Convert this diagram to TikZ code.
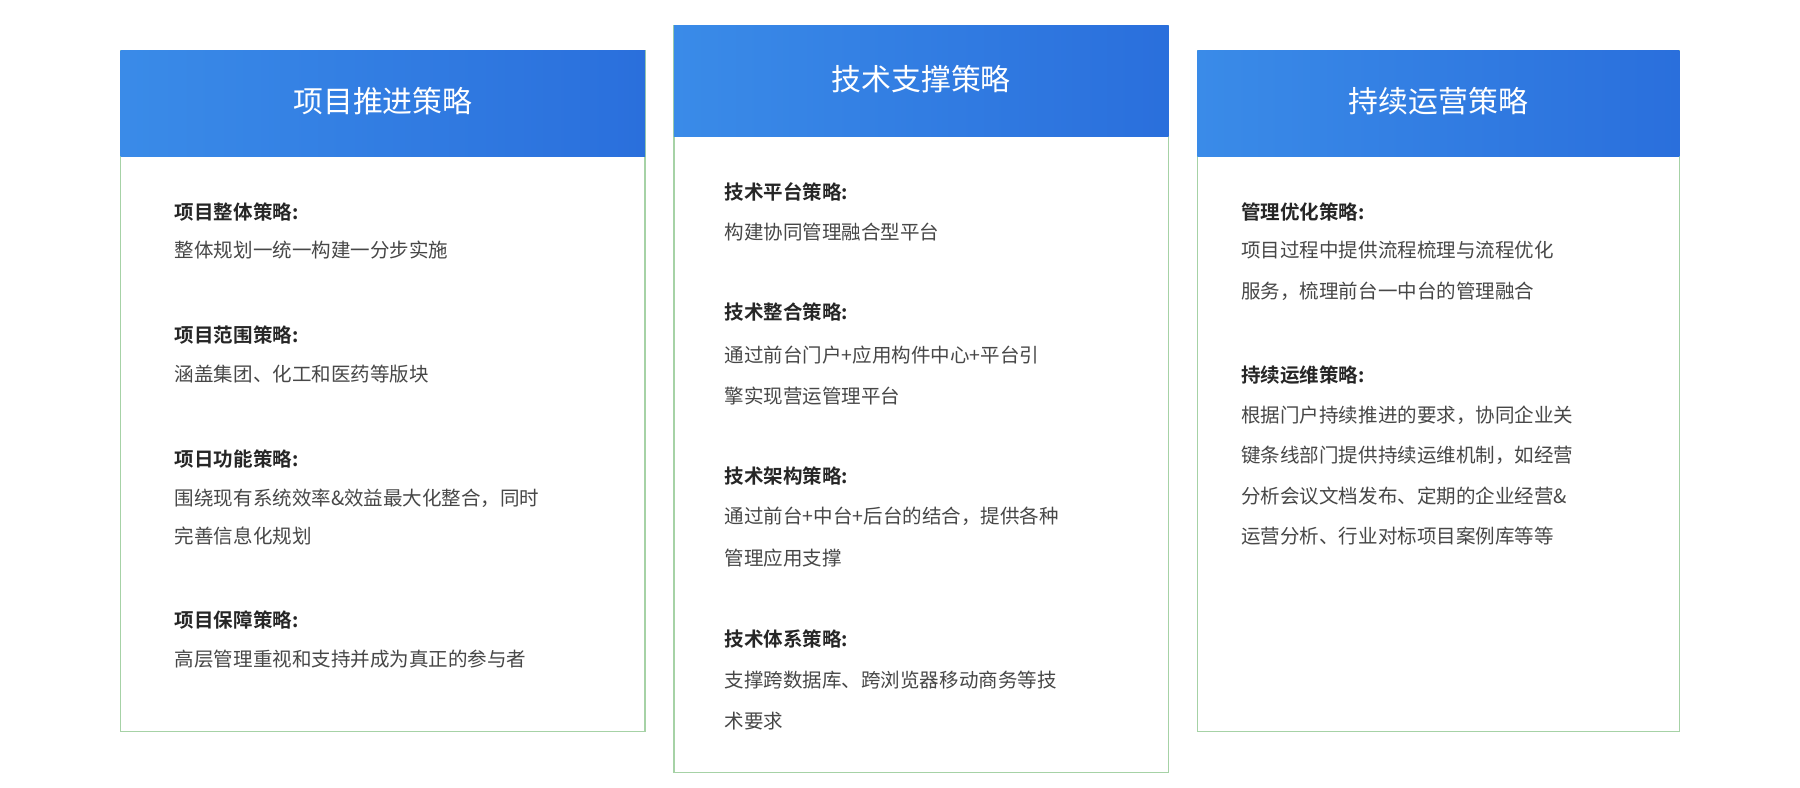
\documentclass[tikz,border=0pt]{standalone}
\usepackage{fontspec}
\setmainfont{Noto Sans CJK SC}
\newfontfamily\cjkb{Noto Sans CJK SC Bold}
\begin{document}
\begin{tikzpicture}[x=0.5pt,y=-0.5pt,
  card/.style={draw=green!40!gray!40, fill=white, line width=0.6pt},
  hdr/.style={left color=hdrL, right color=hdrR, draw=none},
  ttl/.style={text=white, font=\fontsize{13}{15}\selectfont, anchor=center},
  hd/.style={anchor=west, inner sep=0pt, text=black!85, font=\cjkb\fontsize{8.5}{10}\selectfont},
  tx/.style={anchor=west, inner sep=0pt, text=black!72, font=\fontsize{8.5}{10}\selectfont}]
\definecolor{hdrL}{HTML}{3A8BE8}
\definecolor{hdrR}{HTML}{2A6FDC}
\colorlet{bord}{green!50!black!35}
\useasboundingbox (0,0) rectangle (1568,686);
% cards
\draw[card,draw=bord] (105,44) rectangle (562,637);
\shade[hdr] (105,44) rectangle (562,136);
\node[ttl] (t1) at (333.5,88) {项目推进策略};
\draw[card,draw=bord] (587,22) rectangle (1018,673);
\shade[hdr] (587,22) rectangle (1018,119);
\node[ttl] (t2) at (802.5,69) {技术支撑策略};
\draw[card,draw=bord] (1043,44) rectangle (1463,637);
\shade[hdr] (1043,44) rectangle (1463,136);
\node[ttl] (t3) at (1253,88) {持续运营策略};
% left
\node[hd] (a1) at (152,185) {项目整体策略:};
\node[tx] (a2) at (152,218) {整体规划一统一构建一分步实施};
\node[hd] (a3) at (152,292) {项目范围策略:};
\node[tx] (a4) at (152,326) {涵盖集团、化工和医药等版块};
\node[hd] (a5) at (152,400) {项日功能策略:};
\node[tx] (a6) at (152,434) {围绕现有系统效率\&效益最大化整合，同时};
\node[tx] (a7) at (152,467) {完善信息化规划};
\node[hd] (a8) at (152,540) {项目保障策略:};
\node[tx] (a9) at (152,574) {高层管理重视和支持并成为真正的参与者};
% middle
\node[hd] (b1) at (631,167) {技术平台策略:};
\node[tx] (b2) at (631,202) {构建协同管理融合型平台};
\node[hd] (b3) at (631,272) {技术整合策略:};
\node[tx] (b4) at (631,309) {通过前台门户+应用构件中心+平台引};
\node[tx] (b5) at (631,345) {擎实现营运管理平台};
\node[hd] (b6) at (631,415) {技术架构策略:};
\node[tx] (b7) at (631,450) {通过前台+中台+后台的结合，提供各种};
\node[tx] (b8) at (631,486) {管理应用支撑};
\node[hd] (b9) at (631,557) {技术体系策略:};
\node[tx] (b10) at (631,592) {支撑跨数据库、跨浏览器移动商务等技};
\node[tx] (b11) at (631,628) {术要求};
% right
\node[hd] (c1) at (1081,185) {管理优化策略:};
\node[tx] (c2) at (1081,218) {项目过程中提供流程梳理与流程优化};
\node[tx] (c3) at (1081,254) {服务，梳理前台一中台的管理融合};
\node[hd] (c4) at (1081,327) {持续运维策略:};
\node[tx] (c5) at (1081,362) {根据门户持续推进的要求，协同企业关};
\node[tx] (c6) at (1081,397) {键条线部门提供持续运维机制，如经营};
\node[tx] (c7) at (1081,432) {分析会议文档发布、定期的企业经营\&};
\node[tx] (c8) at (1081,467) {运营分析、行业对标项目案例库等等};
\end{tikzpicture}
\end{document}
